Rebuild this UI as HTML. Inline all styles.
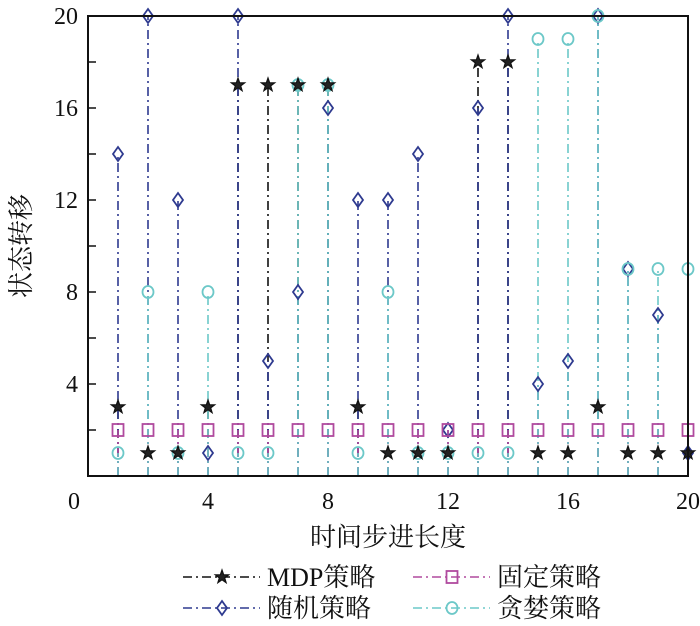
<!DOCTYPE html>
<html><head><meta charset="utf-8"><style>
html,body{margin:0;padding:0;background:#fff;}
svg{display:block;}
text{font-family:"Liberation Serif","Noto Serif CJK SC",serif;fill:#111;}
</style></head><body>
<svg id="chart" width="700" height="626" viewBox="0 0 700 626" xmlns="http://www.w3.org/2000/svg">
<g id="stems"></g>
<g id="marks"></g>
<rect x="88" y="16" width="600" height="460" fill="none" stroke="#111" stroke-width="2"/>
<g id="axes"></g>
<text x="388" y="546" font-size="26" text-anchor="middle">时间步进长度</text>
<text transform="translate(30,246) rotate(-90)" font-size="26" text-anchor="middle">状态转移</text>
<g id="legend"></g>
</svg>
<script>
const steps = [1,2,3,4,5,6,7,8,9,10,11,12,13,14,15,16,17,18,19,20];
const mdpValues = [3,1,1,3,17,17,17,17,3,1,1,1,18,18,1,1,3,1,1,1];
const randomValues = [14,20,12,1,20,5,8,16,12,12,14,2,16,20,4,5,20,9,7,1];
const fixedValues = [2,2,2,2,2,2,2,2,2,2,2,2,2,2,2,2,2,2,2,2];
const greedyValues = [1,8,1,8,1,1,17,17,1,8,1,1,1,1,19,19,20,9,9,9];
const xTicks = [0,4,8,12,16,20];
const yTicks = [4,8,12,16,20];
const seriesNames = ['MDP策略','随机策略','固定策略','贪婪策略'];

const NS='http://www.w3.org/2000/svg';
const X0=88,X1=688,Y0=476,Y1=16;
function xs(v){return X0+(v-0)/(20-0)*(X1-X0);}
function ys(v){return Y0-(v-0)/(20-0)*(Y0-Y1);}
function mk(tag,attrs,parent){const e=document.createElementNS(NS,tag);for(const k in attrs)e.setAttribute(k,attrs[k]);parent.appendChild(e);return e;}

const series=[
 {vals:mdpValues,color:'#111111',marker:'star',key:'mdp'},
 {vals:randomValues,color:'#2e3a8f',marker:'diamond',key:'random'},
 {vals:fixedValues,color:'#b04a9e',marker:'square',key:'fixed'},
 {vals:greedyValues,color:'#6cc8c8',marker:'circle',key:'greedy'}
];
const stemsG=document.getElementById('stems'),marksG=document.getElementById('marks');
function drawMarker(type,cx,cy,color,parent){
  let e;
  if(type==='star'){
    let p=[];for(let i=0;i<10;i++){const r=i%2?2.8:7;const a=-Math.PI/2+i*Math.PI/5;p.push((cx+r*Math.cos(a)).toFixed(1)+','+(cy+r*Math.sin(a)).toFixed(1));}
    e=mk('polygon',{points:p.join(' '),fill:'#222',stroke:color,'stroke-width':1.2},parent);
  }else if(type==='diamond'){
    e=mk('polygon',{points:`${cx},${cy-7} ${cx+5},${cy} ${cx},${cy+7} ${cx-5},${cy}`,fill:'none',stroke:color,'stroke-width':1.8},parent);
  }else if(type==='square'){
    e=mk('rect',{x:cx-5.5,y:cy-6,width:11,height:12,fill:'none',stroke:color,'stroke-width':1.8},parent);
  }else{
    e=mk('ellipse',{cx:cx,cy:cy,rx:5.5,ry:6,fill:'none',stroke:color,'stroke-width':1.8},parent);
  }
  return e;
}
series.forEach(s=>{
  s.vals.forEach((v,i)=>{
    const l=mk('line',{x1:xs(steps[i]),x2:xs(steps[i]),y1:ys(0),y2:ys(v),stroke:s.color,'stroke-width':1.6,'stroke-dasharray':'9,4,2,4'},stemsG);
    
    
  });
});
[1,2,3,0].forEach(si=>{
  const s=series[si];
  s.vals.forEach((v,i)=>{
    const m=drawMarker(s.marker,xs(steps[i]),ys(v),s.color,marksG);
    
    
  });
});
const axesG=document.getElementById('axes');
for(let v=2;v<20;v+=2){
  const t=mk('line',{x1:X0,x2:X0+8,y1:ys(v),y2:ys(v),stroke:'#111','stroke-width':1.5},axesG);
  
  
}
yTicks.forEach(v=>{
  const t=mk('text',{x:78,y:ys(v)+8,'font-size':24,'text-anchor':'end'},axesG);t.textContent=v;
  
  
});
xTicks.forEach(v=>{
  const t=mk('text',{x:xs(v)-(v===0?14:0),y:509,'font-size':24,'text-anchor':'middle'},axesG);t.textContent=v;
  
  
});
const legG=document.getElementById('legend');
const legPos=[[183,577],[183,608],[413,577],[413,608]];
series.forEach((s,i)=>{
  const [lx,ly]=legPos[i];
  const g=mk('g',{},legG);
  
  
  mk('line',{x1:lx,x2:lx+77,y1:ly,y2:ly,stroke:s.color,'stroke-width':1.6,'stroke-dasharray':'9,4,2,4'},g);
  drawMarker(s.marker,lx+39,ly,s.color,g);
  const t=mk('text',{x:lx+84,y:ly+9,'font-size':26},g);t.textContent=seriesNames[i];
});
</script>
</body></html>
